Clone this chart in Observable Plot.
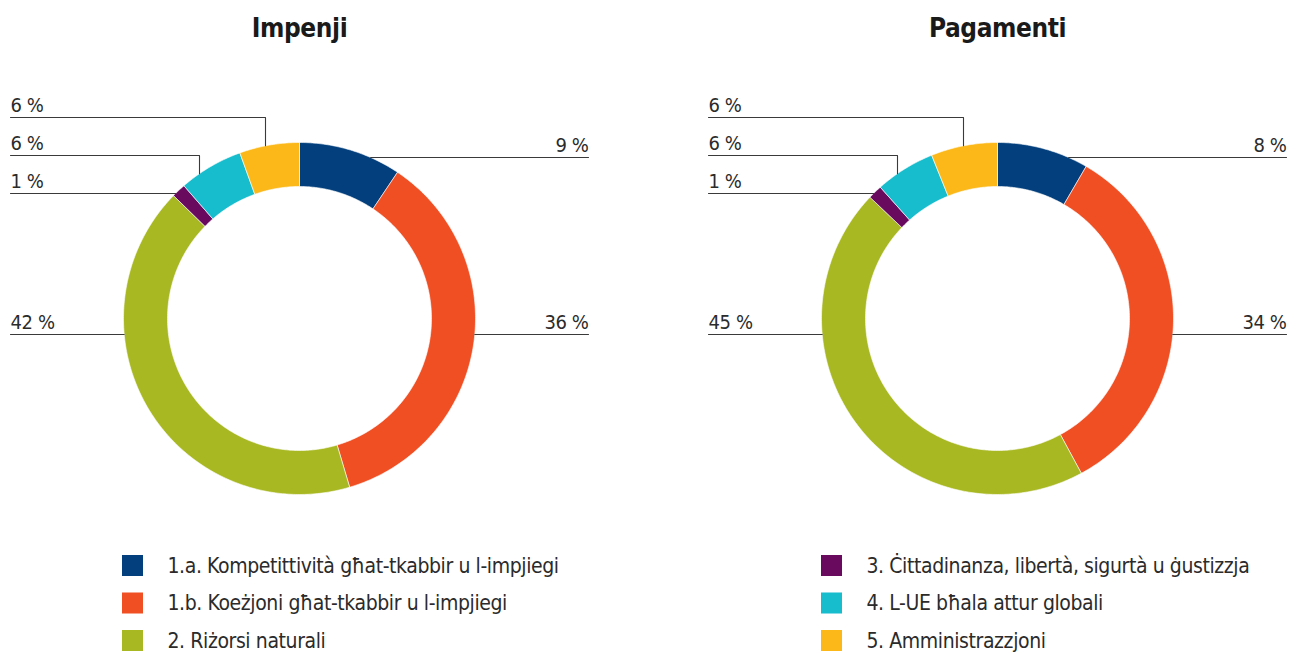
<!DOCTYPE html>
<html>
<head>
<meta charset="utf-8">
<script src="https://cdn.jsdelivr.net/npm/d3@7"></script>
<script src="https://cdn.jsdelivr.net/npm/@observablehq/plot@0.6"></script>
<style>
  html, body { margin: 0; padding: 0; background: #fff; }
  #chart svg { display: block; }
  #chart svg text { letter-spacing: -0.4px; }
</style>
</head>
<body>
<div id="chart"></div>
<script>
// ---- data ----
const categories = [
  "1.a. Kompetittività għat-tkabbir u l-impjiegi",
  "1.b. Koeżjoni għat-tkabbir u l-impjiegi",
  "2. Riżorsi naturali",
  "3. Ċittadinanza, libertà, sigurtà u ġustizzja",
  "4. L-UE bħala attur globali",
  "5. Amministrazzjoni"
];
const colors = ["#023f7c", "#f04e23", "#a8b823", "#6a0a5f", "#17bccd", "#fbb818"];
const chartTitles = ["Impenji", "Pagamenti"];
const commitments = [9.4, 36.0, 41.9, 1.3, 5.9, 5.5];
const payments = [8.4, 33.7, 45.0, 1.3, 5.5, 6.1];
const commitmentLabels = ["9 %", "36 %", "42 %", "1 %", "6 %", "6 %"];
const paymentLabels = ["8 %", "34 %", "45 %", "1 %", "6 %", "6 %"];

// ---- layout ----
const W = 1302, H = 653;
const centersX = [299, 997], CY = 318, R = 176, RIN = 132;
const labelReach = 289;
// per slice: side of label, row offset from centre, optional elbow x offset
const labelLayout = [
  {side: "right", dy: -161},
  {side: "right", dy: 16},
  {side: "left", dy: 16},
  {side: "left", dy: -125},
  {side: "left", dy: -163, ex: -100},
  {side: "left", dy: -201, ex: -34}
];
const FONT = "'DejaVu Sans Condensed', 'Liberation Sans Narrow', 'DejaVu Sans', sans-serif";

const series = [
  {title: chartTitles[0], values: commitments, labels: commitmentLabels, cx: centersX[0]},
  {title: chartTitles[1], values: payments, labels: paymentLabels, cx: centersX[1]}
];

const arcPts = [];
const leaderPts = [];
const pctText = [];
const titleText = [];
series.forEach((s, si) => {
  titleText.push({x: s.cx, y: 28, text: s.title});
  const arcs = d3.pie().sort(null).value(d => d)(s.values);
  arcs.forEach((a, i) => {
    const id = si + "-" + i;
    const n = Math.max(8, Math.ceil((a.endAngle - a.startAngle) * 80));
    const outer = [], inner = [];
    for (let k = 0; k <= n; k++) {
      const t = a.startAngle + (a.endAngle - a.startAngle) * k / n;
      outer.push({x: s.cx + R * Math.sin(t), y: CY - R * Math.cos(t)});
      inner.push({x: s.cx + RIN * Math.sin(t), y: CY - RIN * Math.cos(t)});
    }
    inner.reverse();
    [...outer, ...inner, outer[0]].forEach(p => arcPts.push({...p, id, cat: categories[i]}));

    const L = labelLayout[i];
    const ly = CY + L.dy;
    const ringX = Math.sqrt(R * R - L.dy * L.dy);
    if (L.side === "right") {
      leaderPts.push({x: s.cx + ringX, y: ly, id});
      leaderPts.push({x: s.cx + labelReach, y: ly, id});
      pctText.push({x: s.cx + labelReach, y: ly - 12, text: s.labels[i], anchor: "end"});
    } else {
      leaderPts.push({x: s.cx - labelReach, y: ly, id});
      if (L.ex !== undefined) {
        leaderPts.push({x: s.cx + L.ex, y: ly, id});
        leaderPts.push({x: s.cx + L.ex, y: CY - Math.sqrt(R * R - L.ex * L.ex), id});
      } else {
        leaderPts.push({x: s.cx - ringX, y: ly, id});
      }
      pctText.push({x: s.cx - labelReach, y: ly - 12, text: s.labels[i], anchor: "start"});
    }
  });
});

// legend: first three categories left, last three right
const legendX = [122, 821], legendY0 = 555, legendStep = 37.5, sq = 21;
const legend = categories.map((c, i) => {
  const col = Math.floor(i / 3), row = i % 3;
  const x = legendX[col], y = legendY0 + row * legendStep;
  return {cat: c, x1: x, x2: x + sq, y1: y, y2: y + sq, tx: x + 45, ty: y + sq / 2};
});

const chart = Plot.plot({
  width: W, height: H,
  margin: 0,
  x: {domain: [0, W], range: [0, W], axis: null},
  y: {domain: [0, H], range: [0, H], axis: null},
  color: {domain: categories, range: colors},
  style: {fontFamily: FONT, background: "#fff"},
  marks: [
    Plot.line(arcPts, {x: "x", y: "y", z: "id", fill: "cat", stroke: "#fff", strokeWidth: 0.6, curve: "linear"}),
    Plot.line(leaderPts, {x: "x", y: "y", z: "id", stroke: "#3a3a3a", strokeWidth: 1.1}),
    Plot.text(pctText.filter(d => d.anchor === "end"), {x: "x", y: "y", text: "text", textAnchor: "end", fontSize: 20, fill: "#2b2b2b"}),
    Plot.text(pctText.filter(d => d.anchor === "start"), {x: "x", y: "y", text: "text", textAnchor: "start", fontSize: 20, fill: "#2b2b2b"}),
    Plot.text(titleText, {x: "x", y: "y", text: "text", fontSize: 26, fontWeight: "bold", fill: "#1a1a1a"}),
    Plot.rect(legend, {x1: "x1", x2: "x2", y1: "y1", y2: "y2", fill: "cat"}),
    Plot.text(legend, {x: "tx", y: "ty", text: "cat", textAnchor: "start", fontSize: 21, fill: "#2b2b2b"})
  ]
});
document.getElementById("chart").appendChild(chart);
</script>
</body>
</html>
